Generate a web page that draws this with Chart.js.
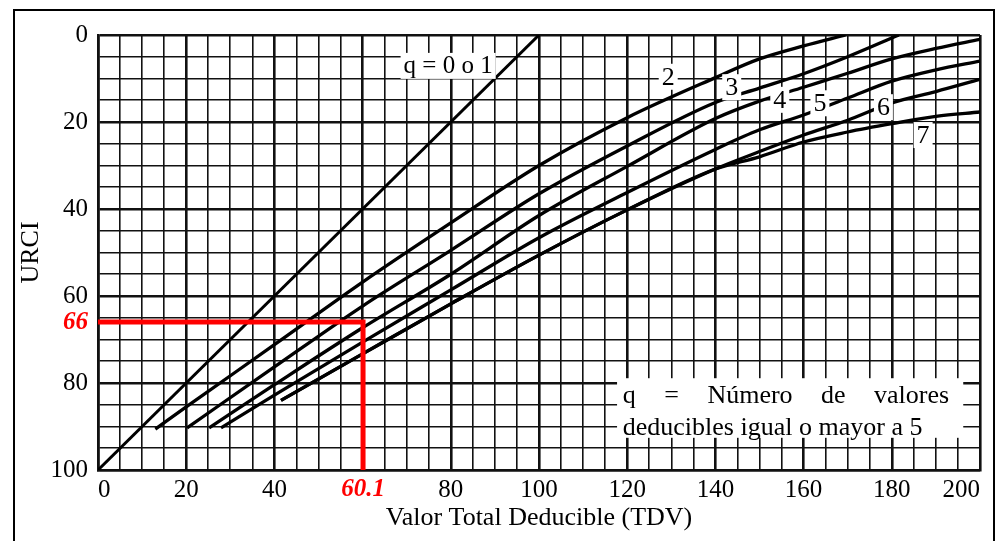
<!DOCTYPE html>
<html>
<head>
<meta charset="utf-8">
<script src="https://cdn.jsdelivr.net/npm/chart.js@4.4.1/dist/chart.umd.min.js"></script>
<style>
  html, body { margin: 0; padding: 0; background: #fff; overflow: hidden; }
  #wrap { position: relative; width: 996px; height: 541px; }
  #frame { position: absolute; left: 13px; top: 9px; width: 982px; height: 600px; box-sizing: border-box; border: 2px solid #000; pointer-events: none; }
</style>
</head>
<body>
<div id="wrap">
  <canvas id="urciChart"></canvas>
  <div id="frame"></div>
</div>
<script>
// curvas q: Valor Total Deducible (TDV) contra URCI
const q1TDV = [0, 100];
const q1URCI = [100, 0];
const q2TDV = [13, 20, 40, 60, 80, 100, 120, 140, 150, 160, 169.5];
const q2URCI = [90.6, 85.5, 71.2, 56.8, 43.2, 30, 19, 9.8, 5.5, 2.5, 0];
const q3TDV = [20.2, 40, 60, 80, 100, 120, 140, 150, 160, 170, 181.6];
const q3URCI = [90.3, 76.3, 62.3, 49.5, 36.5, 25.5, 15.5, 12.2, 8.9, 5, 0];
const q4TDV = [25.2, 40, 60, 80, 100, 120, 140, 150, 160, 170, 180, 190, 200];
const q4URCI = [90.3, 80.4, 67.3, 55, 41.5, 30.2, 19.2, 15.2, 12, 8.8, 5.5, 3.1, 1];
const q5TDV = [27.9, 40, 60, 80, 100, 120, 140, 150, 160, 170, 180, 190, 200];
const q5URCI = [90.3, 82.8, 70.6, 58.6, 46.6, 36.2, 26.3, 21.8, 18.4, 14.5, 10.6, 8, 6];
const q6TDV = [41.5, 60, 80, 100, 120, 140, 150, 160, 170, 180, 190, 200];
const q6URCI = [84, 73.3, 61.8, 50.6, 40.2, 30.8, 26.8, 23, 19.6, 15.6, 13, 10.2];
const q7TDV = [41.5, 60, 80, 100, 120, 140, 150, 160, 170, 180, 190, 200];
const q7URCI = [84, 73.3, 61.8, 50.6, 40.2, 30.8, 28, 24.6, 22.3, 20.4, 18.7, 17.7];

// lectura marcada en rojo
const markTDV = 60.1;
const markURCI = 66;
const markLineTDV = [0, markTDV, markTDV];
const markLineURCI = [markURCI, markURCI, 100];

// etiquetas de ejes
const xLabeled = [0, 20, 40, 80, 100, 120, 140, 160, 180, 200];
const yLabeled = [0, 20, 40, 60, 80, 100];

const curveNames = ["q = 0 o 1", "2", "3", "4", "5", "6", "7"];
const curveNameTDV = [79.4, 129.3, 143.7, 154.6, 163.7, 178.1, 187.1];
const curveNameURCI = [7.1, 9.6, 12, 14.9, 15.7, 16.6, 23];

const noteLines = ["q = Número de valores", "deducibles igual o mayor a 5"];

const serif = "'Liberation Serif', 'Times New Roman', serif";

function pts(xs, ys) {
  return xs.map((x, i) => ({ x: x, y: ys[i] }));
}

function curve(xs, ys, w) {
  return {
    data: pts(xs, ys),
    borderColor: '#000',
    borderWidth: w,
    pointRadius: 0,
    fill: false,
    cubicInterpolationMode: 'monotone'
  };
}

let xGrid = [];
for (let v = 0; v <= 200; v += 5) xGrid.push(v);
xGrid.push(markTDV);
xGrid.sort((a, b) => a - b);
let yGrid = [];
for (let v = 0; v <= 100; v += 5) yGrid.push(v);
yGrid.push(markURCI);
yGrid.sort((a, b) => a - b);

function gridWidth(c, mark) {
  if (!c.tick) return 1.6;
  if (c.tick.value === mark) return 0;
  return c.tick.value % 20 === 0 ? 2.6 : 1.6;
}

const labelsPlugin = {
  id: 'labels',
  afterDatasetsDraw(chart) {
    const c = chart.ctx;
    const xs = chart.scales.x, ys = chart.scales.y;
    c.save();
    c.textBaseline = 'middle';
    c.textAlign = 'center';
    curveNames.forEach((t, i) => {
      c.font = (i === 0 ? '25px ' : '26px ') + serif;
      const px = xs.getPixelForValue(curveNameTDV[i]);
      const py = ys.getPixelForValue(curveNameURCI[i]);
      const w = c.measureText(t).width + 6;
      c.fillStyle = '#fff';
      c.fillRect(px - w / 2, py - 13, w, 26);
      c.fillStyle = '#000';
      c.fillText(t, px, py + 1);
    });

    // nota de q
    const bx0 = xs.getPixelForValue(117.7), bx1 = xs.getPixelForValue(196.2);
    const by0 = ys.getPixelForValue(78.9), by1 = ys.getPixelForValue(92.6);
    c.fillStyle = '#fff';
    c.fillRect(bx0, by0, bx1 - bx0, by1 - by0);
    c.fillStyle = '#000';
    c.font = '26px ' + serif;
    c.textAlign = 'left';
    c.textBaseline = 'alphabetic';
    const left = xs.getPixelForValue(119), right = xs.getPixelForValue(193);
    const words = noteLines[0].split(' ');
    const widths = words.map(w => c.measureText(w).width);
    const gap = (right - left - widths.reduce((a, b) => a + b, 0)) / (words.length - 1);
    let cx = left;
    const l1 = ys.getPixelForValue(84.6);
    words.forEach((w, i) => {
      c.fillText(w, cx, l1);
      cx += widths[i] + gap;
    });
    c.fillText(noteLines[1], left, ys.getPixelForValue(92));
    c.restore();
  }
};

const ctx = document.getElementById('urciChart').getContext('2d');

new Chart(ctx, {
  type: 'line',
  data: {
    datasets: [
      {
        data: pts(markLineTDV, markLineURCI),
        borderColor: '#ff0000',
        borderWidth: 5,
        pointRadius: 0,
        fill: false,
        tension: 0,
        borderJoinStyle: 'miter'
      },
      curve(q1TDV, q1URCI, 3),
      curve(q2TDV, q2URCI, 3.3),
      curve(q3TDV, q3URCI, 3.3),
      curve(q4TDV, q4URCI, 3.3),
      curve(q5TDV, q5URCI, 3.3),
      curve(q6TDV, q6URCI, 3.3),
      curve(q7TDV, q7URCI, 3.3)
    ]
  },
  options: {
    responsive: true,
    maintainAspectRatio: false,
    animation: false,
    events: [],
    layout: { padding: { left: 0, top: 35, right: 16, bottom: 0 } },
    plugins: {
      legend: { display: false },
      tooltip: { enabled: false }
    },
    scales: {
      x: {
        type: 'linear',
        min: 0,
        max: 200,
        afterBuildTicks: (s) => { s.ticks = xGrid.map(v => ({ value: v })); },
        afterFit: (s) => { s.height = 71; s.paddingLeft = 0; s.paddingRight = 0; },
        grid: {
          color: '#111',
          lineWidth: (c) => gridWidth(c, markTDV),
          drawTicks: false
        },
        border: { display: true, color: '#111', width: 2.6 },
        ticks: {
          autoSkip: false,
          maxRotation: 0,
          align: 'inner',
          padding: 5,
          color: (c) => c.tick && c.tick.value === markTDV ? '#ff0000' : '#000',
          font: (c) => c.tick && c.tick.value === markTDV
            ? { family: serif, size: 25, weight: 'bold', style: 'italic' }
            : { family: serif, size: 25 },
          callback: (v) => v === markTDV ? String(markTDV) : (xLabeled.includes(v) ? String(v) : '')
        },
        title: {
          display: true,
          text: 'Valor Total Deducible (TDV)',
          color: '#000',
          font: { family: serif, size: 26 },
          padding: { top: 0, bottom: 7 }
        }
      },
      y: {
        type: 'linear',
        reverse: true,
        min: 0,
        max: 100,
        afterBuildTicks: (s) => { s.ticks = yGrid.map(v => ({ value: v })); },
        afterFit: (s) => { s.width = 98; },
        grid: {
          color: '#111',
          lineWidth: (c) => gridWidth(c, markURCI),
          drawTicks: false
        },
        border: { display: true, color: '#111', width: 2.6 },
        ticks: {
          autoSkip: false,
          padding: 10,
          color: (c) => c.tick && c.tick.value === markURCI ? '#ff0000' : '#000',
          font: (c) => c.tick && c.tick.value === markURCI
            ? { family: serif, size: 25, weight: 'bold', style: 'italic' }
            : { family: serif, size: 25 },
          callback: (v) => v === markURCI ? String(markURCI) : (yLabeled.includes(v) ? String(v) : '')
        },
        title: {
          display: true,
          text: 'URCI',
          color: '#000',
          font: { family: serif, size: 26 },
          padding: { top: 16, bottom: 0 }
        }
      }
    }
  },
  plugins: [labelsPlugin]
});
</script>
</body>
</html>
